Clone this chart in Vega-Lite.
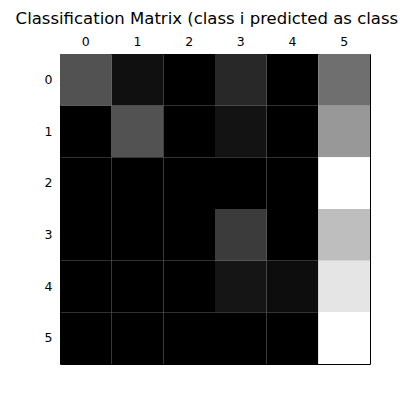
{
  "$schema": "https://vega.github.io/schema/vega-lite/v6.json",
  "width": 310,
  "height": 310,
  "autosize": "none",
  "padding": {"left": 60, "top": 54, "right": 30, "bottom": 36},
  "background": "white",
  "title": {"text": "Classification Matrix (class i predicted as class j)", "fontSize": 16.5, "fontWeight": "normal", "font": "DejaVu Sans", "offset": 8, "color": "black"},
  "config": {"view": {"stroke": "black", "strokeWidth": 1}},
  "data": {"values": [
    {"r": 0, "c": 0, "v": 0.35}, {"r": 0, "c": 1, "v": 0.045}, {"r": 0, "c": 2, "v": 0}, {"r": 0, "c": 3, "v": 0.16}, {"r": 0, "c": 4, "v": 0}, {"r": 0, "c": 5, "v": 0.47},
    {"r": 1, "c": 0, "v": 0}, {"r": 1, "c": 1, "v": 0.35}, {"r": 1, "c": 2, "v": 0}, {"r": 1, "c": 3, "v": 0.06}, {"r": 1, "c": 4, "v": 0}, {"r": 1, "c": 5, "v": 0.63},
    {"r": 2, "c": 0, "v": 0}, {"r": 2, "c": 1, "v": 0}, {"r": 2, "c": 2, "v": 0}, {"r": 2, "c": 3, "v": 0}, {"r": 2, "c": 4, "v": 0}, {"r": 2, "c": 5, "v": 1},
    {"r": 3, "c": 0, "v": 0}, {"r": 3, "c": 1, "v": 0}, {"r": 3, "c": 2, "v": 0}, {"r": 3, "c": 3, "v": 0.25}, {"r": 3, "c": 4, "v": 0}, {"r": 3, "c": 5, "v": 0.77},
    {"r": 4, "c": 0, "v": 0}, {"r": 4, "c": 1, "v": 0}, {"r": 4, "c": 2, "v": 0}, {"r": 4, "c": 3, "v": 0.07}, {"r": 4, "c": 4, "v": 0.035}, {"r": 4, "c": 5, "v": 0.91},
    {"r": 5, "c": 0, "v": 0}, {"r": 5, "c": 1, "v": 0}, {"r": 5, "c": 2, "v": 0}, {"r": 5, "c": 3, "v": 0}, {"r": 5, "c": 4, "v": 0}, {"r": 5, "c": 5, "v": 1}
  ]},
  "mark": {"type": "rect"},
  "encoding": {
    "x": {"field": "c", "type": "ordinal", "scale": {"paddingInner": 0, "paddingOuter": 0},
      "axis": {"orient": "top", "title": null, "grid": false, "labelAngle": 0, "labelFont": "DejaVu Sans", "labelFontSize": 12.5, "labelColor": "black", "domain": false, "ticks": false, "labelPadding": 6}},
    "y": {"field": "r", "type": "ordinal", "scale": {"paddingInner": 0, "paddingOuter": 0},
      "axis": {"title": null, "grid": false, "labelFont": "DejaVu Sans", "labelFontSize": 12.5, "labelColor": "black", "domain": false, "ticks": false, "labelPadding": 8}},
    "color": {"field": "v", "type": "quantitative", "scale": {"domain": [0, 1], "range": ["black", "white"]}, "legend": null}
  }
}
